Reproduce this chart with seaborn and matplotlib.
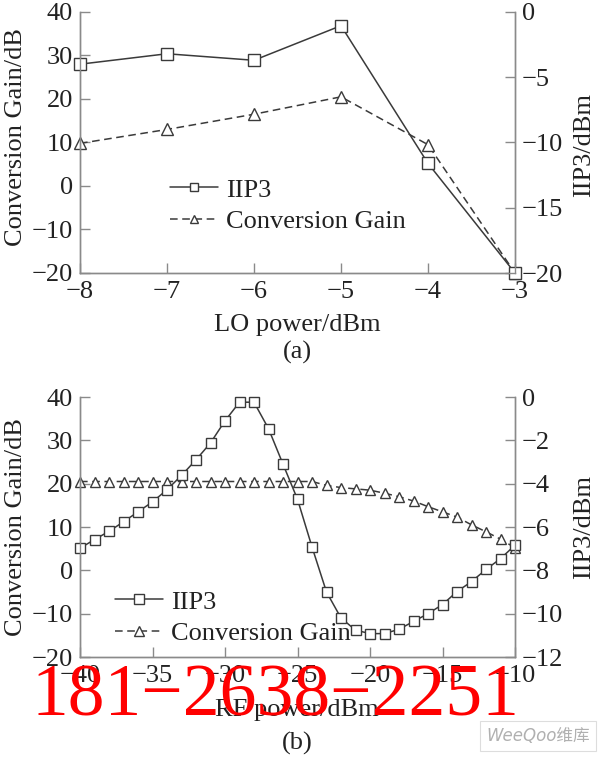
import matplotlib
matplotlib.use('Agg')
import matplotlib.pyplot as plt
import seaborn as sns
import numpy as np

# (a) LO power sweep
lo_power = [-8, -7, -6, -5, -4, -3]
lo_iip3 = [-4.0, -3.2, -3.7, -1.05, -11.6, -20.0]      # right axis, dBm
lo_gain = [9.8, 13.0, 16.5, 20.5, 9.5, -20.0]           # left axis, dB

# (b) RF power sweep
rf_power = [-40, -39, -38, -37, -36, -35, -34, -33, -32, -31, -30,
            -29, -28, -27, -26, -25, -24, -23, -22, -21, -20,
            -19, -18, -17, -16, -15, -14, -13, -12, -11, -10]
rf_iip3 = [-6.98, -6.58, -6.2, -5.76, -5.3, -4.84, -4.28, -3.62, -2.9, -2.12, -1.1,
           -0.24, -0.24, -1.46, -3.1, -4.72, -6.92, -9.0, -10.2, -10.76, -10.92,
           -10.92, -10.72, -10.36, -10.0, -9.58, -8.98, -8.52, -7.96, -7.46, -6.84]
rf_gain = [20.5, 20.5, 20.5, 20.5, 20.5, 20.5, 20.5, 20.5, 20.5, 20.5, 20.5,
           20.5, 20.5, 20.5, 20.5, 20.5, 20.5, 19.6, 19.1, 18.8, 18.5,
           17.8, 17.0, 16.0, 14.7, 13.5, 12.3, 10.5, 8.9, 7.2, 5.2]

sns.set_theme(style='ticks')
plt.rcParams['font.family'] = ['Liberation Serif', 'DejaVu Serif']

LINE = '#3a3a3a'
SPINE = '#8a8a8a'
TXT = '#222222'
FS = 19
W, H = 600, 759

fig = plt.figure(figsize=(6, 7.59), dpi=100, facecolor='white')


def fx(px):
    return px / W


def fy(py):
    return 1 - py / H


def minus(vals):
    return [f'\u2212{abs(v)}' if v < 0 else str(v) for v in vals]


def style_axes(ax, axr):
    for a in (ax, axr):
        a.spines['top'].set_visible(False)
        for s in ('left', 'right', 'bottom'):
            a.spines[s].set_color(SPINE)
            a.spines[s].set_linewidth(1.0)
        a.tick_params(direction='in', length=7, width=1.0, color=SPINE,
                      labelsize=FS, labelcolor=TXT, pad=5)
    ax.tick_params(axis='x', pad=6)
    ax.set_xlabel('')
    ax.set_ylabel('')
    axr.set_ylabel('')
    axr.set_xlabel('')


def draw_panel(rect, x, gain, iip3, xlim, xticks, ylim, yticks, rlim, rticks, msize):
    ax = fig.add_axes(rect)
    axr = ax.twinx()
    sns.lineplot(x=x, y=gain, ax=ax, color=LINE, linewidth=1.1,
                 linestyle=(0, (5, 3)), marker='^', markersize=msize,
                 markerfacecolor='white', markeredgecolor=LINE,
                 markeredgewidth=1.0, label='Conversion Gain', legend=False,
                 clip_on=False)
    sns.lineplot(x=x, y=iip3, ax=axr, color=LINE, linewidth=1.1,
                 marker='s', markersize=msize,
                 markerfacecolor='white', markeredgecolor=LINE,
                 markeredgewidth=1.0, label='IIP3', legend=False,
                 clip_on=False)
    ax.set_xlim(*xlim)
    ax.set_xticks(xticks)
    ax.set_xticklabels(minus(xticks))
    ax.set_ylim(*ylim)
    ax.set_yticks(yticks)
    ax.set_yticklabels(minus(yticks))
    axr.set_ylim(*rlim)
    axr.set_yticks(rticks)
    axr.set_yticklabels(minus(rticks))
    style_axes(ax, axr)
    h_iip3 = axr.get_lines()[0]
    h_gain = ax.get_lines()[0]
    return ax, axr, [h_iip3, h_gain]


# panel (a)
ax1, ax1r, hd1 = draw_panel([fx(80), fy(273), fx(435), 261 / H],
                            lo_power, lo_gain, lo_iip3,
                            (-8, -3), [-8, -7, -6, -5, -4, -3],
                            (-20, 40), [-20, -10, 0, 10, 20, 30, 40],
                            (-20, 0), [-20, -15, -10, -5, 0], 8)
fig.legend(hd1, ['IIP3', 'Conversion Gain'], loc='upper left',
           bbox_to_anchor=(fx(157), fy(165)), bbox_transform=fig.transFigure,
           frameon=False, borderpad=0, handlelength=1.8, handletextpad=0.3,
           labelspacing=0.3, fontsize=FS, labelcolor=TXT, markerscale=0.8)

# panel (b)
ax2, ax2r, hd2 = draw_panel([fx(80), fy(657), fx(435), 260 / H],
                            rf_power, rf_gain, rf_iip3,
                            (-40, -10), [-40, -35, -30, -25, -20, -15, -10],
                            (-20, 40), [-20, -10, 0, 10, 20, 30, 40],
                            (-12, 0), [-12, -10, -8, -6, -4, -2, 0], 6.5)
fig.legend(hd2, ['IIP3', 'Conversion Gain'], loc='upper left',
           bbox_to_anchor=(fx(102), fy(577)), bbox_transform=fig.transFigure,
           frameon=False, borderpad=0, handlelength=1.8, handletextpad=0.3,
           labelspacing=0.3, fontsize=FS, labelcolor=TXT)

# axis titles
fig.text(fx(16), fy(137), 'Conversion Gain/dB', rotation=90, ha='center', va='center',
         fontsize=FS, color=TXT)
fig.text(fx(584), fy(145), 'IIP3/dBm', rotation=90, ha='center', va='center',
         fontsize=FS, color=TXT)
fig.text(fx(297), fy(325), 'LO power/dBm', ha='center', va='center', fontsize=FS, color=TXT)
fig.text(fx(297), fy(352), '(a)', ha='center', va='center', fontsize=FS, color=TXT)

fig.text(fx(16), fy(527), 'Conversion Gain/dB', rotation=90, ha='center', va='center',
         fontsize=FS, color=TXT)
fig.text(fx(584), fy(527), 'IIP3/dBm', rotation=90, ha='center', va='center',
         fontsize=FS, color=TXT)
fig.text(fx(297), fy(710), 'RF power/dBm', ha='center', va='center', fontsize=FS, color=TXT)
fig.text(fx(297), fy(743), '(b)', ha='center', va='center', fontsize=FS, color=TXT)

# watermarks
fig.text(fx(275), fy(698), '181\u22122638\u22122251', ha='center', va='center',
         fontsize=53, color='#ff0000', zorder=10)
fig.text(fx(538), fy(736), 'WeeQoo维库', ha='center', va='center', fontsize=12,
         color='#b0b0b0', style='italic', family=['DejaVu Sans', 'Noto Sans CJK SC'],
         zorder=10,
         bbox=dict(boxstyle='square,pad=0.35', facecolor='white', edgecolor='#dddddd',
                   linewidth=0.8))

fig.savefig('out.png', dpi=100, facecolor='white')
